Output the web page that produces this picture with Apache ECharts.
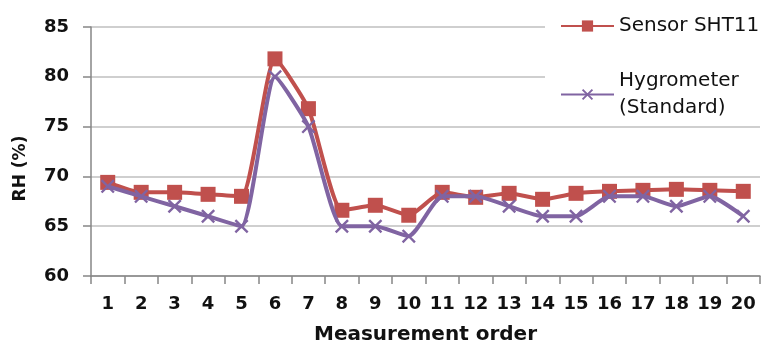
<!DOCTYPE html>
<html><head><meta charset="utf-8">
<script src="https://cdn.jsdelivr.net/npm/echarts@6/dist/echarts.min.js"></script>
<style>html,body{margin:0;padding:0;background:#fff}#c{width:763px;height:345px}</style>
</head><body><div id="c"></div>
<script>
const categories = ['1','2','3','4','5','6','7','8','9','10','11','12','13','14','15','16','17','18','19','20'];
const sensorSHT11 = [69.4,68.4,68.4,68.2,68.0,81.8,76.8,66.6,67.1,66.1,68.4,67.9,68.3,67.7,68.3,68.5,68.6,68.7,68.6,68.5];
const hygrometer = [69,68,67,66,65,80,75,65,65,64,68,68,67,66,66,68,68,67,68,66];
const yTicks = {min:60, max:85, interval:5};
const seriesNames = ['Sensor SHT11','Hygrometer (Standard)'];

const RED = '#C0504D', PURPLE = '#8064A2';
const crossPath = 'path://M0,1.2L1.2,0L5,3.8L8.8,0L10,1.2L6.2,5L10,8.8L8.8,10L5,6.2L1.2,10L0,8.8L3.8,5Z';
const font = 'DejaVu Sans';
const chart = echarts.init(document.getElementById('c'), null, {renderer:'canvas'});
chart.setOption({
  animation:false,
  grid:{left:91, right:3, top:27, bottom:69, containLabel:false, outerBoundsMode:'none'},
  legend:[{
    data:[{name:seriesNames[0]}],
    orient:'vertical', left:545, top:0,
    padding:[16,20,78,15], backgroundColor:'#fff', z:10,
    itemWidth:53, itemHeight:14, itemGap:0,
    textStyle:{fontFamily:font, fontSize:20, color:'#111'}
  },{
    data:[{name:seriesNames[1]}],
    orient:'vertical', left:545, top:54,
    padding:[0,20,0,15], z:11,
    itemWidth:53, itemHeight:14,
    formatter: () => 'Hygrometer\n(Standard)',
    textStyle:{fontFamily:font, fontSize:20, color:'#111', lineHeight:27, padding:[27,0,0,0]}
  }],
  xAxis:{
    type:'category', data:categories, boundaryGap:true,
    name:'Measurement order', nameLocation:'middle', nameGap:49,
    nameTextStyle:{fontFamily:font, fontWeight:'bold', fontSize:20, color:'#111'},
    axisLine:{lineStyle:{color:'#868686', width:1.5}},
    axisTick:{show:true, length:8, alignWithLabel:false, lineStyle:{color:'#868686', width:1.5}},
    axisLabel:{fontFamily:font, fontWeight:'bold', fontSize:18, color:'#111', margin:19, interval:0}
  },
  yAxis:{
    type:'value', min:yTicks.min, max:yTicks.max, interval:yTicks.interval,
    name:'RH (%)', nameLocation:'middle', nameGap:62,
    nameTextStyle:{fontFamily:font, fontWeight:'bold', fontSize:17, color:'#111', padding:[0,34,0,0]},
    axisLine:{show:true, lineStyle:{color:'#868686', width:1.5}},
    axisTick:{show:true, length:8, lineStyle:{color:'#868686', width:1.5}},
    axisLabel:{fontFamily:font, fontWeight:'bold', fontSize:18, color:'#111', margin:22},
    splitLine:{lineStyle:{color:'#BFBFBF', width:1.5}}
  },
  series:[{
    name:seriesNames[0], type:'line', data:sensorSHT11, smooth:0.18,
    symbol:'rect', symbolSize:15,
    lineStyle:{color:RED, width:4}, itemStyle:{color:RED}, z:2
  },{
    name:seriesNames[1], type:'line', data:hygrometer, smooth:0.18,
    symbol:crossPath, symbolSize:14,
    lineStyle:{color:PURPLE, width:4}, itemStyle:{color:PURPLE}, z:3
  }]
});
</script></body></html>
